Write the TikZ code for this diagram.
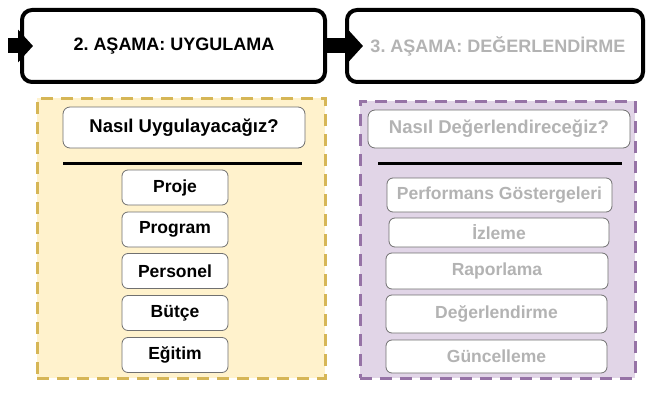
\documentclass[tikz,border=0pt]{standalone}
\usepackage{fontspec}
\setmainfont{Liberation Sans}
\frenchspacing
\usetikzlibrary{arrows.meta}
\definecolor{yelfill}{HTML}{FFF2CC}
\definecolor{yelline}{HTML}{D6B656}
\definecolor{purfill}{HTML}{E1D5E7}
\definecolor{purline}{HTML}{9673A6}
\definecolor{dimtext}{HTML}{B3B3B3}
\definecolor{itemline}{HTML}{707070}
\begin{document}
\begin{tikzpicture}[x=1pt,y=-1pt,
  stage/.style={draw=black, line width=4pt, fill=white, rounded corners=10pt,
    minimum height=72pt, inner sep=0pt},
  stagetext/.style={font=\fontsize{18}{21}\selectfont\bfseries},
  panel/.style={line width=3pt, dash pattern=on 12pt off 8pt, inner sep=0pt},
  question/.style={draw=itemline, line width=0.8pt, fill=white, rounded corners=7pt,
    inner sep=0pt, font=\fontsize{18.5}{21}\selectfont\bfseries},
  item/.style={draw=itemline, line width=0.8pt, fill=white, rounded corners=6pt,
    inner sep=0pt, font=\fontsize{17.5}{20}\selectfont\bfseries},
  conn/.style={draw=black, line width=15pt,
    -{Triangle[length=15pt,width=32pt]}},
  rule/.style={draw=black, line width=3pt}]
\useasboundingbox (0,0) rectangle (648,396);

% Stage headers
\node[stage, minimum width=303pt] (s1) at (173.5,46) {};
\node[stagetext] (t1) at (174,46) {2. AŞAMA: UYGULAMA};
\node[stage, minimum width=296pt] (s2) at (495,46) {};
\node[stagetext, text=dimtext] (t2) at (498,46) {3. AŞAMA: DEĞERLENDİRME};

% Flow arrows
\coordinate (in) at (8,46);
\draw[conn] (in) -- ([xshift=13pt]s1.west);
\draw[conn] (s1.east) -- ([xshift=18pt]s2.west);

% Panels
\node[panel, draw=yelline, fill=yelfill, minimum width=288pt, minimum height=280pt] (p1) at (181,238) {};
\node[panel, draw=purline, fill=purfill, minimum width=275pt, minimum height=277pt] (p2) at (497.5,239.5) {};

% Implementation column
\node[question, minimum width=242pt, minimum height=41pt] (q1) at (184,127.5) {Nasıl Uygulayacağız?};
\coordinate (r1a) at (63,163);
\coordinate (r1b) at (302,163);
\draw[rule] (r1a) -- (r1b);
\node[item, minimum width=106pt, minimum height=35pt] (a1) at (175,187.5) {Proje};
\node[item, minimum width=106pt, minimum height=35pt] (a2) at (175,229.5) {Program};
\node[item, minimum width=106pt, minimum height=35pt] (a3) at (175,271) {Personel};
\node[item, minimum width=106pt, minimum height=35pt] (a4) at (175,313) {Bütçe};
\node[item, minimum width=106pt, minimum height=35pt] (a5) at (175,355) {Eğitim};

% Evaluation column
\node[question, minimum width=262pt, minimum height=38pt, text=dimtext] (q2) at (499,129) {Nasıl Değerlendireceğiz?};
\coordinate (r2a) at (378,163);
\coordinate (r2b) at (622,163);
\draw[rule] (r2a) -- (r2b);
\node[item, text=dimtext, minimum width=225pt, minimum height=34pt] (b1) at (499.5,195) {Performans Göstergeleri};
\node[item, text=dimtext, minimum width=220pt, minimum height=29pt] (b2) at (499,232.5) {İzleme};
\node[item, text=dimtext, minimum width=222pt, minimum height=36pt] (b3) at (497,271) {Raporlama};
\node[item, text=dimtext, minimum width=221pt, minimum height=38pt] (b4) at (496.5,314) {Değerlendirme};
\node[item, text=dimtext, minimum width=221pt, minimum height=33pt] (b5) at (496.5,356.5) {Güncelleme};
\end{tikzpicture}
\end{document}
